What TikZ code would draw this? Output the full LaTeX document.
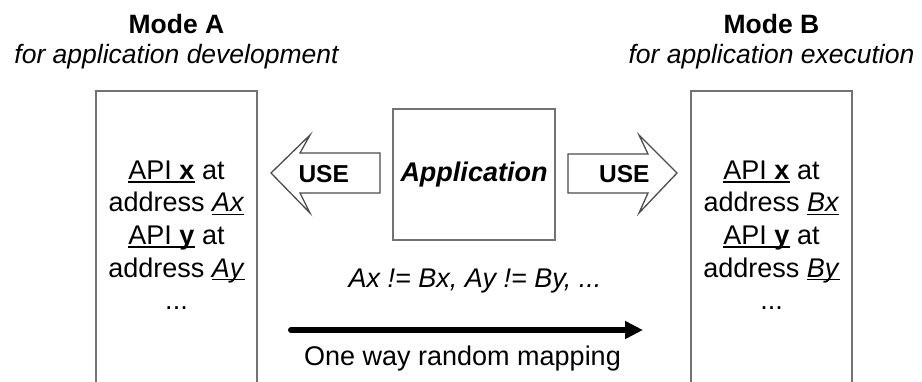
\documentclass[tikz,border=0pt]{standalone}
\usepackage{fontspec}
\setmainfont{Liberation Sans}
\usetikzlibrary{positioning}
\usetikzlibrary{arrows.meta}

\newsavebox{\ulbox}
\newcommand{\uln}[1]{\sbox{\ulbox}{#1}\rlap{\rule[-3.4pt]{\wd\ulbox}{1.6pt}}\usebox{\ulbox}}
\newcommand{\bodysize}{\fontsize{27}{32.6}\selectfont}

\begin{document}
\begin{tikzpicture}[x=1pt, y=-1pt,
  modebox/.style={draw=black!55, line width=1.8pt, minimum width=161pt, minimum height=330pt, inner sep=0pt},
  appbox/.style={draw=black!55, line width=1.8pt, minimum width=162pt, minimum height=131pt, inner sep=0pt, font=\bodysize\bfseries\itshape},
  usearrow/.style={draw=black!70, line width=1.3pt, fill=white},
  usetext/.style={inner sep=0pt, font=\fontsize{24.5}{29}\selectfont\bfseries},
  apitext/.style={align=center, inner sep=0pt, font=\bodysize},
  modetitle/.style={inner sep=0pt, font=\fontsize{26.5}{30}\selectfont\bfseries},
  modesub/.style={inner sep=0pt, font=\fontsize{26.5}{30}\selectfont\itshape},
  maparrow/.style={line width=6pt, line cap=round, -{Triangle[length=18pt, width=17pt]}}]

\clip (0,0) rectangle (922,381);
\fill[white] (0,0) rectangle (922,381);

% left side
\begin{scope}
{
\node[modebox, anchor=north] (boxA) at (176.5,90) {};

\node[modetitle, anchor=base] (titleA) at (176.5,33) {Mode A};
\node[modesub, anchor=base] (subA) at (176.5,63) {for application development};

\node[apitext, below=70.5pt of boxA.north] (apiA)
  {\uln{API \textbf{x}} at\\ address \uln{\textit{Ax}}\\
   \uln{API \textbf{y}} at\\ address \uln{\textit{Ay}}\\ ...};
}
\end{scope}

% right side
\begin{scope}
{
\node[modebox, anchor=north] (boxB) at (771.5,90) {};

\node[modetitle, anchor=base] (titleB) at (771.5,33) {Mode B};
\node[modesub, anchor=base] (subB) at (771.5,63) {for application execution};

\node[apitext, below=70.5pt of boxB.north] (apiB)
  {\uln{API \textbf{x}} at\\ address \uln{\textit{Bx}}\\
   \uln{API \textbf{y}} at\\ address \uln{\textit{By}}\\ ...};
}
\end{scope}

% application and the two USE arrows
\node[appbox] (app) at (474,174.5) {Application};

\draw[usearrow] (380,153)--++(-80,0)--++(10,-18)--++(-39,38)--++(39,40)--++(-10,-20)--++(80,0)--cycle;
\draw[usearrow] (568,154)--++(80,0)--++(-9,-19)--++(38,38)--++(-38,40)--++(9,-20)--++(-80,0)--cycle;

\node[usetext, left=43pt of app] (useA) {USE};
\node[usetext, right=43pt of app] (useB) {USE};

% mapping
\node[apitext, anchor=base] (neq) at (475,287) {\textit{Ax != Bx, Ay != By, ...}};

\coordinate (mapstart) at (291,330);
\coordinate (mapend) at (643,330);
\draw[maparrow] (mapstart) -- (mapend);

\node[apitext, anchor=base] (mapping) at (462.5,365) {One way random mapping};

\end{tikzpicture}
\end{document}
